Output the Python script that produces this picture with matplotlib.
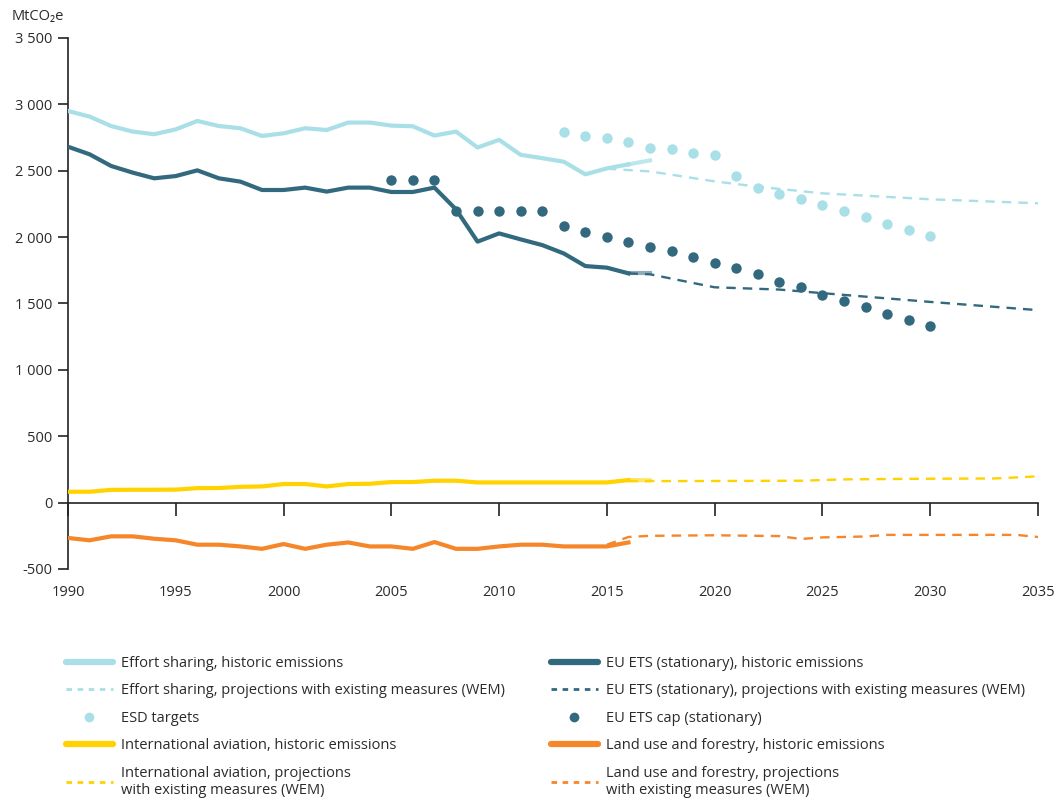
import matplotlib
matplotlib.use("Agg")
import matplotlib.pyplot as plt
from matplotlib.lines import Line2D

plt.rcParams['font.family'] = ['Open Sans', 'DejaVu Sans']

# ---------------- data ----------------
hist_years = list(range(1990, 2017))
proxy_years = [2016, 2017]

es_hist = [2950, 2908, 2837, 2795, 2775, 2812, 2875, 2837, 2820, 2762, 2782, 2820,
           2807, 2863, 2863, 2840, 2835, 2765, 2795, 2675, 2733, 2620, 2595, 2568,
           2473, 2518, 2548]
es_proxy = [2548, 2578]
es_wem_years = [2015, 2017, 2020, 2022, 2025, 2030, 2035]
es_wem = [2515, 2495, 2420, 2380, 2330, 2285, 2255]

esd_years = list(range(2013, 2031))
esd_targets = [2792, 2762, 2745, 2720, 2674, 2662, 2631, 2616, 2458, 2370, 2325,
               2285, 2240, 2197, 2154, 2096, 2051, 2008]

ets_hist = [2681, 2624, 2536, 2486, 2443, 2460, 2503, 2443, 2418, 2355, 2355, 2373,
            2343, 2373, 2373, 2340, 2340, 2373, 2209, 1966, 2028, 1983, 1940, 1877,
            1782, 1770, 1727]
ets_proxy = [1727, 1727]
ets_wem_years = [2016, 2017, 2020, 2023, 2025, 2030, 2035]
ets_wem = [1727, 1720, 1622, 1605, 1578, 1512, 1450]

cap_years = list(range(2005, 2031))
ets_cap = [2430, 2430, 2430, 2196, 2196, 2196, 2196, 2196, 2083, 2041, 2000, 1966,
           1925, 1893, 1853, 1807, 1764, 1724, 1664, 1621, 1561, 1518, 1476, 1418,
           1375, 1330]

av_hist = [82, 82, 96, 97, 97, 98, 109, 110, 119, 122, 140, 140, 122, 140, 142, 155,
           155, 165, 165, 152, 152, 152, 152, 152, 152, 152, 170]
av_proxy = [170, 168]
av_wem_years = [2016, 2020, 2024, 2026, 2030, 2033, 2035]
av_wem = [162, 163, 165, 175, 180, 182, 198]

lu_hist = [-266, -284, -254, -254, -272, -284, -317, -317, -330, -348, -312, -348,
           -317, -300, -330, -330, -348, -297, -348, -348, -330, -317, -317, -330,
           -330, -330, -300]
lu_wem_years = [2015, 2016, 2017, 2020, 2023, 2024, 2025, 2027, 2028, 2030, 2034, 2035]
lu_wem = [-317, -259, -250, -246, -252, -274, -262, -255, -243, -243, -243, -259]

x_ticks = [1990, 1995, 2000, 2005, 2010, 2015, 2020, 2025, 2030, 2035]
y_ticks = [-500, 0, 500, 1000, 1500, 2000, 2500, 3000, 3500]
y_tick_labels = ['-500', '0', '500', '1 000', '1 500', '2 000', '2 500', '3 000', '3 500']

labels = {
    'es_hist': 'Effort sharing, historic emissions',
    'es_wem': 'Effort sharing, projections with existing measures (WEM)',
    'esd': 'ESD targets',
    'av_hist': 'International aviation, historic emissions',
    'av_wem': 'International aviation, projections\nwith existing measures (WEM)',
    'ets_hist': 'EU ETS (stationary), historic emissions',
    'ets_wem': 'EU ETS (stationary), projections with existing measures (WEM)',
    'cap': 'EU ETS cap (stationary)',
    'lu_hist': 'Land use and forestry, historic emissions',
    'lu_wem': 'Land use and forestry, projections\nwith existing measures (WEM)',
}

# ---------------- style ----------------
C_LB = '#a9dfe7'
C_DK = '#33697e'
C_YE = '#ffd200'
C_OR = '#f5862a'
TXT = '#2b2b2b'

fig = plt.figure(figsize=(10.55, 7.99), dpi=100)
ax = fig.add_axes([68 / 1055, 1 - 569 / 799, (1038 - 68) / 1055, (569 - 38) / 799])

LW_H = 3.0
LW_P = 1.7
DASH = (4, 3)

ax.plot(hist_years, es_hist, color=C_LB, lw=LW_H, solid_joinstyle='round', zorder=3)
ax.plot(proxy_years, es_proxy, color=C_LB, lw=LW_H, alpha=0.75, zorder=3)
ax.plot(es_wem_years, es_wem, color=C_LB, lw=LW_P, dashes=DASH, zorder=2)
ax.plot(esd_years, esd_targets, 'o', color=C_LB, ms=7.5, mec='none', zorder=4)

ax.plot(hist_years, ets_hist, color=C_DK, lw=LW_H, solid_joinstyle='round', zorder=3)
ax.plot(proxy_years, ets_proxy, color=C_DK, lw=LW_H, alpha=0.55, zorder=3)
ax.plot(ets_wem_years, ets_wem, color=C_DK, lw=LW_P, dashes=DASH, zorder=2)
ax.plot(cap_years, ets_cap, 'o', color=C_DK, ms=7.5, mec='none', zorder=4)

ax.plot(hist_years, av_hist, color=C_YE, lw=LW_H, solid_joinstyle='round', zorder=3)
ax.plot(proxy_years, av_proxy, color=C_YE, lw=LW_H, alpha=0.6, zorder=3)
ax.plot(av_wem_years, av_wem, color=C_YE, lw=LW_P, dashes=DASH, zorder=2)

ax.plot(hist_years, lu_hist, color=C_OR, lw=LW_H, solid_joinstyle='round', zorder=3)
ax.plot(lu_wem_years, lu_wem, color=C_OR, lw=LW_P, dashes=DASH, zorder=2)

ax.set_xlim(1990, 2035)
ax.set_ylim(-500, 3500)

for s in ['top', 'right']:
    ax.spines[s].set_visible(False)
ax.spines['bottom'].set_position(('data', 0))
for s in ['left', 'bottom']:
    ax.spines[s].set_color('#222222')
    ax.spines[s].set_linewidth(1.2)

ax.set_xticks(x_ticks)
ax.set_xticklabels([str(v) for v in x_ticks])
ax.set_yticks(y_ticks)
ax.set_yticklabels(y_tick_labels)
ax.tick_params(axis='x', direction='out', length=9, width=1.2, color='#222222',
               pad=50, labelsize=10.5, labelcolor=TXT)
ax.tick_params(axis='y', direction='out', length=7, width=1.2, color='#222222',
               pad=4, labelsize=10.5, labelcolor=TXT)

fig.text(12 / 1055, 1 - 16 / 799, 'MtCO₂e', fontsize=10.5, color=TXT,
         va='center', ha='left')

# ---------------- legend ----------------
def hline(c):
    return Line2D([], [], color=c, lw=4.5, solid_capstyle='round')

def dline(c):
    return Line2D([], [], color=c, lw=2, dashes=(2, 2))

def dot(c):
    return Line2D([], [], ls='none', marker='o', color=c, ms=7, mec='none')

left_h = [hline(C_LB), dline(C_LB), dot(C_LB), hline(C_YE), dline(C_YE)]
left_l = [labels['es_hist'], labels['es_wem'], labels['esd'], labels['av_hist'], labels['av_wem']]
right_h = [hline(C_DK), dline(C_DK), dot(C_DK), hline(C_OR), dline(C_OR)]
right_l = [labels['ets_hist'], labels['ets_wem'], labels['cap'], labels['lu_hist'], labels['lu_wem']]

common = dict(loc='upper left', frameon=False, fontsize=10.5, handlelength=3.2,
              handletextpad=0.55, labelspacing=0.85, borderaxespad=0, borderpad=0,
              labelcolor=TXT)
fig.legend(left_h, left_l, bbox_to_anchor=(66 / 1055, 1 - 656 / 799), **common)
fig.legend(right_h, right_l, bbox_to_anchor=(551 / 1055, 1 - 656 / 799), **common)

fig.savefig('out.png', dpi=100)
